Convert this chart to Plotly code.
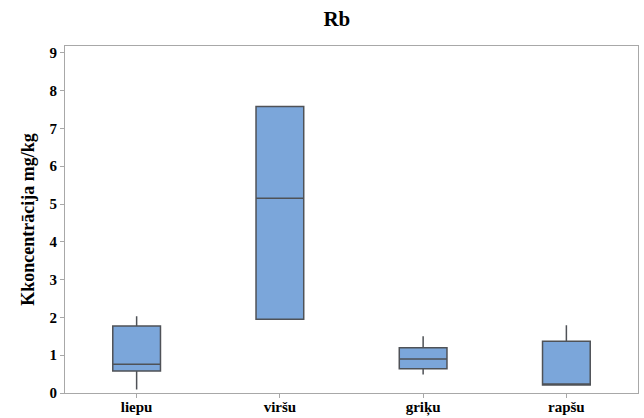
import plotly.graph_objects as go

# Rb concentration by honey type (mg/kg): box statistics
categories = ["liepu", "viršu", "griķu", "rapšu"]
lower_whisker = [0.09, 1.95, 0.49, 0.21]
q1 = [0.58, 1.95, 0.64, 0.21]
median = [0.76, 5.15, 0.90, 0.21]
q3 = [1.77, 7.58, 1.20, 1.37]
upper_whisker = [2.03, 7.58, 1.50, 1.79]

y_ticks = [0, 1, 2, 3, 4, 5, 6, 7, 8, 9]

serif = "Liberation Serif"

fig = go.Figure(
    go.Box(
        x=categories,
        q1=q1,
        median=median,
        q3=q3,
        lowerfence=lower_whisker,
        upperfence=upper_whisker,
        width=0.333,
        whiskerwidth=0,
        fillcolor="#7BA6DA",
        line=dict(color="#4F5257", width=1.5),
        boxpoints=False,
        showlegend=False,
        hoverinfo="skip",
    )
)

fig.update_layout(
    width=644,
    height=418,
    margin=dict(l=65, r=6, t=46, b=25),
    paper_bgcolor="white",
    plot_bgcolor="white",
    title=dict(
        text="<b>Rb</b>",
        x=0.523,
        xanchor="center",
        y=0.955,
        yanchor="middle",
        font=dict(family=serif, size=21, color="black"),
    ),
    xaxis=dict(
        type="category",
        range=[-0.5, 3.5],
        automargin=False,
        showline=True,
        linecolor="#A8A8A8",
        linewidth=1,
        mirror=True,
        ticks="outside",
        ticklen=4,
        tickcolor="#A8A8A8",
        ticklabelstandoff=-4,
        showgrid=False,
        tickfont=dict(family=serif, size=15, color="black", weight="bold"),
    ),
    yaxis=dict(
        range=[0, 9.18],
        tickvals=y_ticks,
        automargin=False,
        showline=True,
        linecolor="#A8A8A8",
        linewidth=1,
        mirror=True,
        ticks="outside",
        ticklen=4,
        tickcolor="#A8A8A8",
        showgrid=False,
        zeroline=False,
        tickfont=dict(family=serif, size=15, color="black", weight="bold"),
        title=dict(
            text="<b>Kkoncentrācija mg/kg</b>",
            font=dict(family=serif, size=18, color="black"),
            standoff=10,
        ),
    ),
)

fig.write_html("out.html")
